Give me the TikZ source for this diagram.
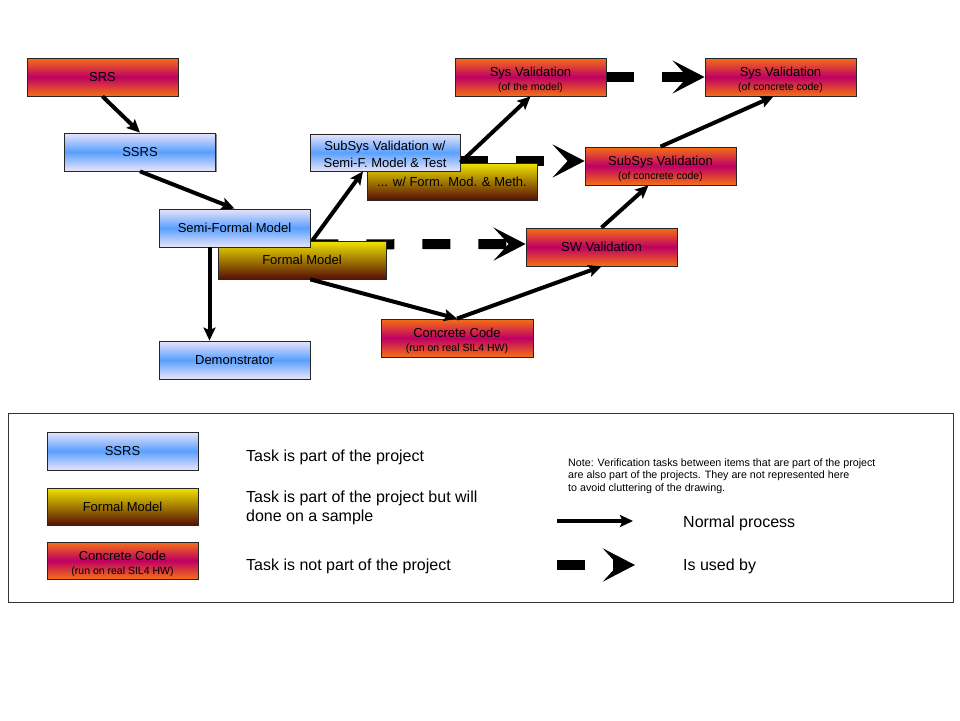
\documentclass[tikz,border=0pt]{standalone}
\usepackage{fontspec}
\setmainfont{Liberation Sans}
\usetikzlibrary{arrows.meta,shadows,calc}
\pgfdeclarelayer{background}
\pgfsetlayers{background,main}

\definecolor{lav}{RGB}{232,228,250}
\definecolor{skyb}{RGB}{90,160,255}
\definecolor{orng}{RGB}{245,112,20}
\definecolor{mgnt}{RGB}{190,0,100}
\definecolor{yelw}{RGB}{240,228,0}
\definecolor{brwn}{RGB}{85,15,5}

\newcommand\subtxt[1]{{\fontsize{10.5}{12}\selectfont #1}}

\tikzset{
  box/.style={draw=black!85, line width=0.8pt, minimum height=38pt, inner sep=0pt,
    align=center, text=black, font=\fontsize{13}{14}\selectfont,
    drop shadow={shadow xshift=1.2pt, shadow yshift=-1.2pt, fill=black!45, opacity=1}},
  inproj/.style={box, top color=lav, bottom color=lav, middle color=skyb},
  sample/.style={box, top color=yelw, bottom color=brwn},
  outproj/.style={box, top color=orng, bottom color=orng, middle color=mgnt},
  boxtext/.style={inner sep=0pt, align=center, text=black, font=\fontsize{13}{14}\selectfont},
  flow/.style={line width=4pt, -{Stealth[length=13pt,width=12pt,inset=2.5pt]}},
  usedby/.style={line width=10pt, dash pattern=on 28pt off 28pt,
    -{Stealth[length=32pt,width=33pt,inset=15pt]}},
  legtext/.style={anchor=west, inner sep=0pt, align=left, text=black,
    font=\fontsize{16}{19}\selectfont},
}

\begin{document}
\begin{tikzpicture}[x=1pt,y=-1pt]
\useasboundingbox (0,0) rectangle (960,720);
\begin{pgfonlayer}{background}
\fill[white] (0,0) rectangle (960,720);
\end{pgfonlayer}

% ---- process chain ----
\node[outproj, minimum width=151pt] (srs) at (102.5,77) {SRS};
\node[inproj, minimum width=151pt] (ssrs) at (140,152) {SSRS};
\node[sample, minimum width=168pt] (fm) at (302,260) {Formal Model};
\node[inproj, minimum width=151pt] (sf) at (234.5,228) {Semi-Formal Model};
\node[inproj, minimum width=151pt] (demo) at (234.5,360) {Demonstrator};
\node[outproj, minimum width=152pt] (cc) at (457,338) {};
\node[boxtext] (cctxt) at ([yshift=-3pt]cc.center)
  {Concrete Code\\\subtxt{(run on real SIL4 HW)}};
\node[outproj, minimum width=151pt] (swv) at (601.5,247) {SW Validation};
\node[sample, minimum width=170pt, minimum height=37pt] (wf) at (452,181.5)
  {... w/ Form. Mod. \& Meth.};
\node[inproj, minimum width=150pt, minimum height=37pt] (sw) at (385,152.5) {};
\node[boxtext, font=\fontsize{13}{17}\selectfont] (swtxt) at ([yshift=-2pt]sw.center)
  {SubSys Validation w/\\Semi-F. Model \& Test};
\node[outproj, minimum width=151pt] (sysm) at (530.5,77) {};
\node[boxtext] (sysmtxt) at ([yshift=-3pt]sysm.center)
  {Sys Validation\\\subtxt{(of the model)}};
\node[outproj, minimum width=151pt] (sysc) at (780.5,77) {};
\node[boxtext] (sysctxt) at ([yshift=-3pt]sysc.center)
  {Sys Validation\\\subtxt{(of concrete code)}};
\node[outproj, minimum width=151pt] (ssc) at (660.5,166) {};
\node[boxtext] (ssctxt) at ([yshift=-2.5pt]ssc.center)
  {SubSys Validation\\\subtxt{(of concrete code)}};

% ---- "is used by" links, behind the boxes ----
\begin{pgfonlayer}{background}
\draw[usedby] ([yshift=3pt]sf.south east) -- ([yshift=3pt]swv.west);
\draw[usedby] ([yshift=-8.5pt]sw.east) -- ([yshift=5pt]ssc.west);
\draw[usedby] (sysm.east) -- (sysc.west);
\end{pgfonlayer}

% ---- normal process ----
\draw[flow] (srs.south) -- (ssrs.north);
\draw[flow] (ssrs.south) -- (sf.north);
\draw[flow] ([xshift=-25pt]sf.south) -- ([xshift=-25pt]demo.north);
\draw[flow] ([xshift=2pt,yshift=7pt]sf.south east) -- ([xshift=-22pt]sw.south);
\draw[flow] ([yshift=-10pt]sw.east) -- (sysm.south);
\draw[flow] (fm.south -| sf.south east) -- (cc.north);
\draw[flow] (cc.north) -- (swv.south);
\draw[flow] (swv.north) -- ([xshift=-12pt]ssc.south);
\draw[flow] (ssc.north) -- ([xshift=-7pt]sysc.south);

% ---- legend ----
\node[draw=black!80, line width=0.8pt, minimum width=945pt, minimum height=189pt,
  inner sep=0pt] (legend) at (480.5,507.5) {};
\node[inproj, minimum width=151pt] (lss) at (122.5,451) {SSRS};
\node[sample, minimum width=151pt, minimum height=37pt] (lfm) at (122.5,506.5) {Formal Model};
\node[outproj, minimum width=151pt, minimum height=37pt] (lcc) at (122.5,560.5) {};
\node[boxtext] (lcctxt) at ([yshift=-3pt]lcc.center)
  {Concrete Code\\\subtxt{(run on real SIL4 HW)}};
\node[legtext] (t1) at (246,457) {Task is part of the project};
\node[legtext] (t2) at (246,507.5) {Task is part of the project but will\\done on a sample};
\node[legtext] (t3) at (246,566) {Task is not part of the project};
\node[anchor=west, inner sep=0pt, align=left, text=black,
  font=\fontsize{10.7}{12.5}\selectfont] (note) at (568,476)
  {Note: Verification tasks between items that are part of the project\\
   are also part of the projects. They are not represented here\\
   to avoid cluttering of the drawing.};
\coordinate (n1) at (557,521);
\coordinate (n2) at (633,521);
\draw[flow] (n1) -- (n2);
\coordinate (u1) at (557,565);
\coordinate (u2) at (635,565);
\draw[usedby] (u1) -- (u2);
\node[legtext] (t4) at (683,523) {Normal process};
\node[legtext] (t5) at (683,566) {Is used by};
\end{tikzpicture}
\end{document}
